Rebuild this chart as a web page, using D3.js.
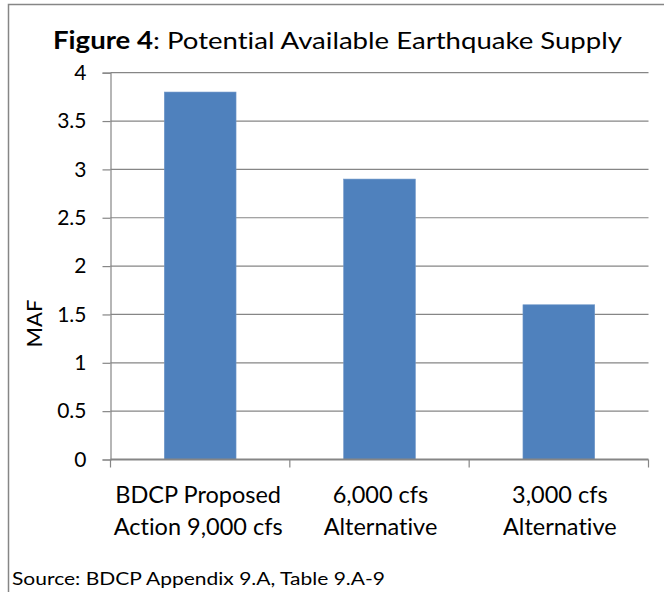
<!DOCTYPE html>
<html>
<head>
<meta charset="utf-8">
<script src="https://cdn.jsdelivr.net/npm/d3@7/dist/d3.min.js"></script>
<style>
  html, body { margin: 0; padding: 0; background: #fff; }
  svg { display: block; }
  text {
    font-family: Lato, "Open Sans", sans-serif;
    fill: #000;
    font-variant-ligatures: none;
    font-feature-settings: "liga" 0, "clig" 0;
  }
</style>
</head>
<body>
<svg id="chart" width="664" height="592"></svg>
<script>
// Potential available supply after an earthquake, by conveyance option (MAF)
const categories = [
  ["BDCP Proposed", "Action 9,000 cfs"],
  ["6,000 cfs", "Alternative"],
  ["3,000 cfs", "Alternative"]
];
const values = [3.8, 2.9, 1.6];
const yTicks = [0, 0.5, 1, 1.5, 2, 2.5, 3, 3.5, 4];
const yTickLabels = ["0", "0.5", "1", "1.5", "2", "2.5", "3", "3.5", "4"];

const svg = d3.select("#chart");
const plot = { left: 110.5, right: 648.5, top: 72.7, bottom: 459.5 };
const grey = "#868686";
const barColor = "#4F81BD";

// outer chart frame (runs past the window on the right and bottom)
svg.append("rect")
  .attr("x", 8.5).attr("y", 4.5)
  .attr("width", 700).attr("height", 700)
  .attr("fill", "none").attr("stroke", grey).attr("stroke-width", 1.5);

// title
const title = svg.append("text")
  .attr("x", 337.5).attr("y", 49)
  .attr("text-anchor", "middle")
  .attr("font-size", 24)
  .attr("textLength", 569)
  .attr("lengthAdjust", "spacingAndGlyphs");
title.append("tspan").attr("font-weight", "bold").text("Figure 4");
title.append("tspan").text(": Potential Available Earthquake Supply");

const x = d3.scaleBand()
  .domain(d3.range(categories.length))
  .range([plot.left, plot.right])
  .paddingInner(0.6)
  .paddingOuter(0.3);

const xCat = d3.scaleBand()
  .domain(d3.range(categories.length))
  .range([plot.left, plot.right]);

const y = d3.scaleLinear().domain([0, 4]).range([plot.bottom, plot.top]);

// horizontal gridlines
svg.append("g")
  .selectAll("line")
  .data(yTicks.filter(d => d > 0))
  .join("line")
  .attr("x1", plot.left).attr("x2", plot.right)
  .attr("y1", d => y(d)).attr("y2", d => y(d))
  .attr("stroke", grey).attr("stroke-width", 1.2);

// bars
svg.append("g")
  .selectAll("rect")
  .data(values)
  .join("rect")
  .attr("x", (d, i) => x(i))
  .attr("width", x.bandwidth())
  .attr("y", d => y(d))
  .attr("height", d => y(0) - y(d))
  .attr("fill", barColor)
  .attr("stroke", "#6f97c8").attr("stroke-width", 0.6);

// y axis
const yAxis = svg.append("g")
  .attr("transform", `translate(${plot.left},0)`)
  .call(d3.axisLeft(y).tickValues(yTicks)
    .tickFormat((d, i) => yTickLabels[i])
    .tickSize(8).tickPadding(16));
yAxis.select(".domain").attr("stroke", grey).attr("stroke-width", 1.2);
yAxis.selectAll(".tick line").attr("stroke", grey).attr("stroke-width", 1.2);
yAxis.selectAll(".tick text")
  .attr("font-family", "Lato, sans-serif")
  .attr("font-size", 21)
  .attr("fill", "#000");

// x axis line and category dividers
const xAxis = svg.append("g");
xAxis.append("line")
  .attr("x1", plot.left).attr("x2", plot.right)
  .attr("y1", plot.bottom).attr("y2", plot.bottom)
  .attr("stroke", grey).attr("stroke-width", 2);
xAxis.selectAll("line.tick")
  .data(d3.range(categories.length + 1))
  .join("line")
  .attr("class", "tick")
  .attr("x1", i => plot.left + i * xCat.step())
  .attr("x2", i => plot.left + i * xCat.step())
  .attr("y1", plot.bottom).attr("y2", plot.bottom + 8)
  .attr("stroke", grey).attr("stroke-width", 1.2);

// category labels, two lines each
const catLabels = svg.append("g")
  .selectAll("text")
  .data(categories)
  .join("text")
  .attr("text-anchor", "middle")
  .attr("font-size", 23.5);
catLabels.each(function (lines, i) {
  const cx = xCat(i) + xCat.bandwidth() / 2 + (i === 0 ? -2 : 1);
  d3.select(this).selectAll("tspan")
    .data(lines)
    .join("tspan")
    .attr("x", cx)
    .attr("y", (d, j) => 503 + j * 32)
    .text(d => d);
});

// y axis title
svg.append("text")
  .attr("transform", "translate(42,323.5) rotate(-90)")
  .attr("text-anchor", "middle")
  .attr("font-size", 22)
  .text("MAF");

// source note
svg.append("text")
  .attr("x", 12).attr("y", 585)
  .attr("font-size", 18)
  .attr("textLength", 373)
  .attr("lengthAdjust", "spacingAndGlyphs")
  .text("Source: BDCP Appendix 9.A, Table 9.A-9");
</script>
</body>
</html>
